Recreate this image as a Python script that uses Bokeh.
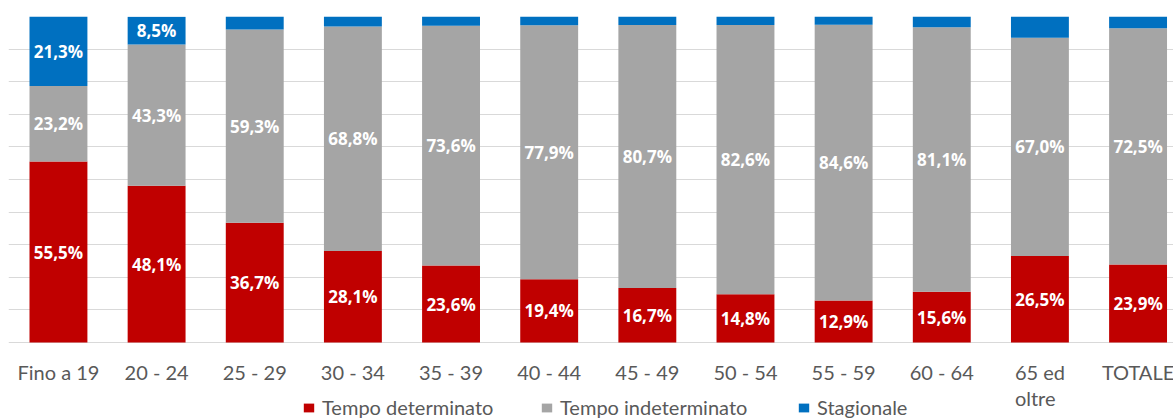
from bokeh.plotting import figure
from bokeh.models import ColumnDataSource, FixedTicker, Legend, LegendItem, LabelSet
from bokeh.core.properties import value
from bokeh.embed import file_html
from bokeh.resources import INLINE

categories = ["Fino a 19", "20 - 24", "25 - 29", "30 - 34", "35 - 39", "40 - 44",
              "45 - 49", "50 - 54", "55 - 59", "60 - 64", "65 ed\noltre", "TOTALE"]
tempo_determinato = [55.5, 48.1, 36.7, 28.1, 23.6, 19.4, 16.7, 14.8, 12.9, 15.6, 26.5, 23.9]
tempo_indeterminato = [23.2, 43.3, 59.3, 68.8, 73.6, 77.9, 80.7, 82.6, 84.6, 81.1, 67.0, 72.5]
stagionale = [21.3, 8.5, 4.0, 3.1, 2.8, 2.7, 2.6, 2.6, 2.5, 3.3, 6.5, 3.6]
series_names = ["Tempo determinato", "Tempo indeterminato", "Stagionale"]
colors = ["#c00000", "#a5a5a5", "#0070c0"]

xs = list(range(len(categories)))
src = ColumnDataSource(dict(x=xs, det=tempo_determinato, ind=tempo_indeterminato, sta=stagionale))

# frame spans the whole height; the area below 0 holds category labels and legend
p = figure(width=1173, height=419, output_backend="svg", toolbar_location=None,
           x_range=(-0.509, 11.361), y_range=(-23.62, 100),
           min_border_left=8, min_border_right=0, min_border_top=16, min_border_bottom=0)
p.outline_line_color = None
p.background_fill_color = "white"
p.xaxis.visible = False
p.yaxis.visible = False
p.xgrid.grid_line_color = None
p.ygrid.ticker = FixedTicker(ticks=list(range(0, 101, 10)))
p.ygrid.grid_line_color = "#d9d9d9"

rs = p.vbar_stack(["det", "ind", "sta"], x="x", width=0.59, source=src, color=colors,
                  line_color=None)

# segment labels (small blue segments are not labelled)
lx, ly, lt = [], [], []
for i in xs:
    base = 0.0
    for vals in (tempo_determinato, tempo_indeterminato, stagionale):
        v = vals[i]
        if v >= 7:
            lx.append(i)
            ly.append(base + v / 2)
            lt.append(f"{v:.1f}".replace(".", ",") + "%")
        base += v
lsrc = ColumnDataSource(dict(x=lx, y=ly, t=lt))
p.add_layout(LabelSet(x="x", y="y", text="t", source=lsrc, text_align="center",
                      text_baseline="middle", text_color="white",
                      text_font_style=value("bold"),
                      text_font=value("Open Sans"), text_font_size=value("17px")))

# category labels under the baseline
csrc = ColumnDataSource(dict(x=xs, y=[0] * len(xs), t=categories))
p.add_layout(LabelSet(x="x", y="y", text="t", source=csrc, text_align="center",
                      text_baseline="top", y_offset=-18, text_color="#595959",
                      text_font=value("Lato"), text_font_size=value("20px"),
                      text_line_height=1.05))

legend_x = [294, 532, 789]
for name, r, lxp in zip(series_names, rs, legend_x):
    lg = Legend(items=[LegendItem(label=name, renderers=[r])],
                orientation="horizontal", location=(lxp, 0),
                glyph_width=13, glyph_height=11, label_standoff=7,
                padding=0, margin=0, border_line_color=None, background_fill_alpha=0,
                label_text_font="Lato", label_text_font_size="20px",
                label_text_color="#595959")
    p.add_layout(lg, "center")

open("out.html", "w").write(file_html(p, INLINE))
